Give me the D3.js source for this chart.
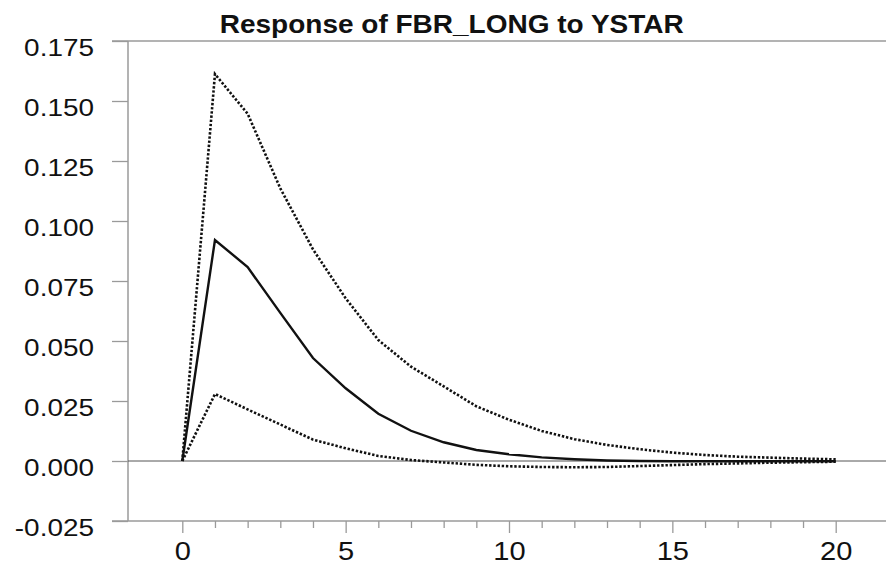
<!DOCTYPE html>
<html>
<head>
<meta charset="utf-8">
<script src="https://cdn.jsdelivr.net/npm/d3@7"></script>
<style>
  html, body { margin: 0; padding: 0; background: #fff; }
  svg { display: block; font-family: "Liberation Sans", Arial, sans-serif; }
</style>
</head>
<body>
<svg id="chart" width="886" height="565"></svg>
<script>
// Impulse response horizon (periods)
const periods = [0,1,2,3,4,5,6,7,8,9,10,11,12,13,14,15,16,17,18,19,20];

// Point estimate of the response
const response = [0, 0.0921, 0.0808, 0.0617, 0.0429, 0.0303, 0.0197, 0.0126, 0.0078, 0.0046,
                  0.0028, 0.0015, 0.0007, 0.0002, 0.0000, -0.0001, -0.0001, -0.0001, -0.0001, -0.0001, -0.0001];

// Upper and lower error bands
const upper = [0, 0.1612, 0.1447, 0.1136, 0.0882, 0.0678, 0.0504, 0.0393, 0.0311, 0.0228,
               0.0172, 0.0125, 0.0091, 0.0067, 0.0049, 0.0035, 0.0025, 0.0018, 0.0014, 0.0010, 0.0007];
const lower = [0, 0.0279, 0.0215, 0.0152, 0.0089, 0.0053, 0.0021, 0.0004, -0.0006, -0.0016,
               -0.0022, -0.0025, -0.0026, -0.0025, -0.0021, -0.0017, -0.0013, -0.0010, -0.0007, -0.0005, -0.0003];

// Axis ticks
const yTicks = [-0.025, 0, 0.025, 0.05, 0.075, 0.1, 0.125, 0.15, 0.175];
const xMajorTicks = [0, 5, 10, 15, 20];
const xMinorTicks = periods.filter(p => p % 5 !== 0);

const title = "Response of FBR_LONG to YSTAR";

(function draw() {
  const svg = d3.select("#chart");
  const plotLeft = 128, plotRight = 886, plotTop = 41, plotBottom = 521;
  const frameColor = "#9a9a9a";
  const stretch = 1.14;   // slightly wide lettering
  const fmtY = v => d3.format(".3f")(v).replace("\u2212", "-");

  const x = d3.scaleLinear().domain([0, 20]).range([182.3, 835.7]);
  const y = d3.scaleLinear().domain([-0.025, 0.175]).range([plotBottom, plotTop]);

  // Y axis with long outward ticks
  const yAxis = svg.append("g")
    .attr("transform", `translate(${plotLeft},0)`)
    .call(d3.axisLeft(y).tickValues(yTicks).tickSize(16).tickPadding(19).tickFormat(fmtY));
  yAxis.select(".domain").remove();
  yAxis.selectAll(".tick line").attr("stroke", frameColor).attr("stroke-width", 1.3);
  yAxis.selectAll(".tick text")
    .attr("dy", null).attr("x", null).attr("y", null)
    .attr("transform", `translate(-34,14) scale(${stretch},1)`)
    .attr("font-size", 24.5).attr("fill", "#111")
    .attr("font-family", "Liberation Sans, Arial, sans-serif");

  // X axis: major ticks with labels, minor ticks without
  const xAxis = svg.append("g")
    .attr("transform", `translate(0,${plotBottom})`)
    .call(d3.axisBottom(x).tickValues(xMajorTicks).tickSize(12).tickFormat(d3.format("d")));
  xAxis.select(".domain").remove();
  xAxis.selectAll(".tick line").attr("stroke", frameColor).attr("stroke-width", 1.3);
  xAxis.selectAll(".tick text")
    .attr("dy", null).attr("y", null)
    .attr("transform", `translate(0,38.5) scale(${stretch},1)`)
    .attr("font-size", 25.5).attr("fill", "#111")
    .attr("font-family", "Liberation Sans, Arial, sans-serif");

  const xMinor = svg.append("g")
    .attr("transform", `translate(0,${plotBottom})`)
    .call(d3.axisBottom(x).tickValues(xMinorTicks).tickSize(7).tickFormat(""));
  xMinor.select(".domain").remove();
  xMinor.selectAll(".tick line").attr("stroke", frameColor).attr("stroke-width", 1.3);

  // Frame: left axis, top and bottom rules
  svg.append("line").attr("x1", plotLeft).attr("x2", plotLeft).attr("y1", plotTop).attr("y2", plotBottom)
    .attr("stroke", frameColor).attr("stroke-width", 1.5);
  svg.append("line").attr("x1", 112).attr("x2", plotRight).attr("y1", plotTop).attr("y2", plotTop)
    .attr("stroke", frameColor).attr("stroke-width", 1.5);
  svg.append("line").attr("x1", 112).attr("x2", plotRight).attr("y1", plotBottom).attr("y2", plotBottom)
    .attr("stroke", frameColor).attr("stroke-width", 1.5);

  // Zero reference line
  svg.append("line").attr("x1", plotLeft).attr("x2", plotRight).attr("y1", y(0)).attr("y2", y(0))
    .attr("stroke", "#555").attr("stroke-width", 1);

  // Series
  const line = d3.line().x((d, i) => x(periods[i])).y(d => y(d));

  svg.append("path").datum(upper).attr("d", line)
    .attr("fill", "none").attr("stroke", "#111").attr("stroke-width", 2.6)
    .attr("stroke-dasharray", "2.4,1.8");
  svg.append("path").datum(lower).attr("d", line)
    .attr("fill", "none").attr("stroke", "#111").attr("stroke-width", 2.6)
    .attr("stroke-dasharray", "2.4,1.8");
  svg.append("path").datum(response).attr("d", line)
    .attr("fill", "none").attr("stroke", "#111").attr("stroke-width", 2.4)
    .attr("stroke-linejoin", "miter");

  // Title
  svg.append("text")
    .attr("transform", `translate(451.7,33.3) scale(1.12,1)`)
    .attr("text-anchor", "middle")
    .attr("font-size", 25).attr("font-weight", "bold").attr("fill", "#111")
    .text(title);
})();
</script>
</body>
</html>
